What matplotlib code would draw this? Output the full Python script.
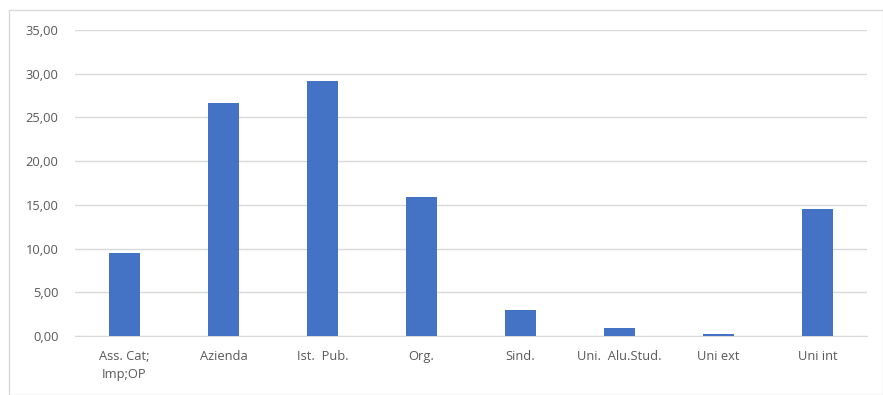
import matplotlib.pyplot as plt
from matplotlib.patches import Rectangle
from matplotlib.ticker import FuncFormatter

categories = ['Ass. Cat;\nImp;OP', 'Azienda', 'Ist.  Pub.', 'Org.', 'Sind.',
              'Uni.  Alu.Stud.', 'Uni ext', 'Uni int']
values = [9.5, 26.6, 29.2, 15.9, 3.0, 0.9, 0.3, 14.5]
yticks = [0, 5, 10, 15, 20, 25, 30, 35]

plt.rcParams['font.family'] = ['Open Sans', 'DejaVu Sans']

fig = plt.figure(figsize=(8.83, 3.95), dpi=100)
ax = fig.add_axes([0.085, 0.149, 0.897, 0.775])

# outer chart border
fig.patches.append(Rectangle((9 / 883, 0), 1 - 9 / 883, 1 - 10 / 395,
                             transform=fig.transFigure, fill=False,
                             edgecolor='#d9d9d9', linewidth=1))

x = range(len(categories))
ax.bar(x, values, width=0.32, color='#4472c4', zorder=3)

ax.set_xlim(-0.5, len(categories) - 0.5)
ax.set_ylim(0, 35)
ax.set_yticks(yticks)
ax.yaxis.set_major_formatter(FuncFormatter(lambda v, p: f'{v:.2f}'.replace('.', ',')))
ax.set_xticks(list(x))
ax.set_xticklabels(categories, linespacing=1.5)

ax.grid(axis='y', color='#d9d9d9', linewidth=1, zorder=0)
for s in ['top', 'right', 'left']:
    ax.spines[s].set_visible(False)
ax.spines['bottom'].set_color('#d9d9d9')
ax.tick_params(axis='both', length=0, colors='#595959', labelsize=9.3)
ax.tick_params(axis='x', pad=10)
ax.tick_params(axis='y', pad=12)

fig.savefig('out.png', dpi=100)
